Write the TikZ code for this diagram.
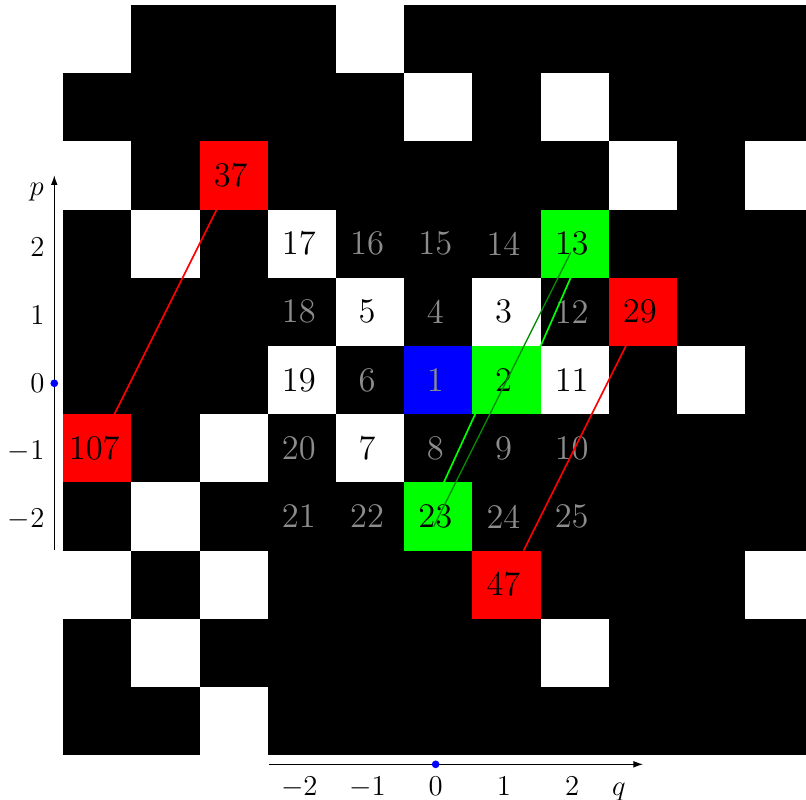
\documentclass[tikz,border=0pt]{standalone}
\usetikzlibrary{calc,arrows.meta}
\definecolor{numgray}{gray}{0.55}
\definecolor{darkgreen}{rgb}{0,0.55,0}
\newcommand{\cellnum}[1]{\kern-2.6pt#1}
\tikzset{
  cellbox/.style={minimum size=1cm, inner sep=0pt, outer sep=0pt, font=\fontsize{14.4}{17}\selectfont},
  primecell/.style={cellbox, fill=white, text=black},
  compcell/.style={cellbox, fill=black, text=numgray},
  redcell/.style={cellbox, fill=red, text=black},
  greencell/.style={cellbox, fill=green, text=black},
  onecell/.style={cellbox, fill=blue, text=numgray},
  axislabel/.style={inner sep=0pt, font=\fontsize{11.5}{13}\selectfont},
  axisline/.style={line width=0.4pt, -{Latex[length=4pt,width=2.8pt]}},
  bluedot/.style={circle, fill=blue, inner sep=0pt, minimum size=3.2pt},
  redlink/.style={red, line width=0.7pt},
  darklink/.style={darkgreen, line width=0.6pt},
  brightlink/.style={green, line width=0.7pt}
}
\begin{document}
\begin{tikzpicture}
\useasboundingbox (-6.428,-6.158) rectangle (5.390,5.572);
\clip (-6.428,-6.158) rectangle (5.390,5.572);
% black background of the 11x11 grid
\fill[black] (-5.5,-5.5) rectangle (5.5,5.5);
% unnumbered prime cells
\foreach \x/\y in {-1/5,-5/5,0/4,2/4,-5/3,3/3,5/3,-4/2,4/0,-3/-1,-4/-2,-5/-3,-3/-3,5/-3,-4/-4,2/-4,-3/-5}
  \fill[white] (\x-0.5,\y-0.5) rectangle ++(1,1);
% numbered cells
\node[onecell]   (c1)  at (0,0)   {\cellnum{1}};
\node[greencell] (c2)  at (1,0)   {\cellnum{2}};
\node[primecell] (c3)  at (1,1)   {\cellnum{3}};
\node[compcell]  (c4)  at (0,1)   {\cellnum{4}};
\node[primecell] (c5)  at (-1,1)  {\cellnum{5}};
\node[compcell]  (c6)  at (-1,0)  {\cellnum{6}};
\node[primecell] (c7)  at (-1,-1) {\cellnum{7}};
\node[compcell]  (c8)  at (0,-1)  {\cellnum{8}};
\node[compcell]  (c9)  at (1,-1)  {\cellnum{9}};
\node[compcell]  (c10) at (2,-1)  {\cellnum{10}};
\node[primecell] (c11) at (2,0)   {\cellnum{11}};
\node[compcell]  (c12) at (2,1)   {\cellnum{12}};
\node[greencell] (c13) at (2,2)   {\cellnum{13}};
\node[compcell]  (c14) at (1,2)   {\cellnum{14}};
\node[compcell]  (c15) at (0,2)   {\cellnum{15}};
\node[compcell]  (c16) at (-1,2)  {\cellnum{16}};
\node[primecell] (c17) at (-2,2)  {\cellnum{17}};
\node[compcell]  (c18) at (-2,1)  {\cellnum{18}};
\node[primecell] (c19) at (-2,0)  {\cellnum{19}};
\node[compcell]  (c20) at (-2,-1) {\cellnum{20}};
\node[compcell]  (c21) at (-2,-2) {\cellnum{21}};
\node[compcell]  (c22) at (-1,-2) {\cellnum{22}};
\node[greencell] (c23) at (0,-2)  {\cellnum{23}};
\node[compcell]  (c24) at (1,-2)  {\cellnum{24}};
\node[compcell]  (c25) at (2,-2)  {\cellnum{25}};
\node[redcell]   (c29) at (3,1)   {\cellnum{29}};
\node[redcell]   (c37) at (-3,3)  {\cellnum{37}};
\node[redcell]   (c47) at (1,-3)  {\cellnum{47}};
\node[redcell]   (c107) at (-5,-1) {\cellnum{107}};
% red connectors
\draw[redlink] (c37) -- (c107);
\draw[redlink] (c29) -- (c47);
% green connectors
\coordinate (b1s) at ($(c13.south)+(-0.06,0)$);
\coordinate (b2s) at ($(c2.south west)+(0.04,0)$);
\coordinate (b2e) at ($(c23.north)+(0.08,0)$);
\draw[brightlink] (b1s) -- (c2.north east);
\draw[brightlink] (b2s) -- (b2e);
\coordinate (as) at ($(c13.center)+(-0.06,-0.13)$);
\coordinate (ae) at ($(c23.center)+(-0.07,-0.15)$);
\draw[darklink] (as) -- (ae);
% axes
\coordinate (pbot) at (-5.632,-2.49);
\coordinate (ptop) at (-5.632,3.0);
\coordinate (qleft) at (-2.48,-5.635);
\coordinate (qright) at (3.0,-5.635);
\draw[axisline] (pbot) -- (ptop);
\draw[axisline] (qleft) -- (qright);
\node[bluedot] (p0) at (-5.632,-0.048) {};
\node[bluedot] (q0) at (-0.04,-5.635) {};
\foreach \v in {-2,-1,0,1,2} {
  \node[axislabel, anchor=east] (pl\v) at (-5.77,\v-0.048) {$\v$};
  \node[axislabel, anchor=base] (ql\v) at (\v-0.04,-6.085) {$\v$};
}
\node[axislabel, anchor=base] (plabel) at (-5.89,2.70) {$p$};
\node[axislabel, anchor=base] (qlabel) at (2.645,-6.085) {$q$};
\end{tikzpicture}
\end{document}
